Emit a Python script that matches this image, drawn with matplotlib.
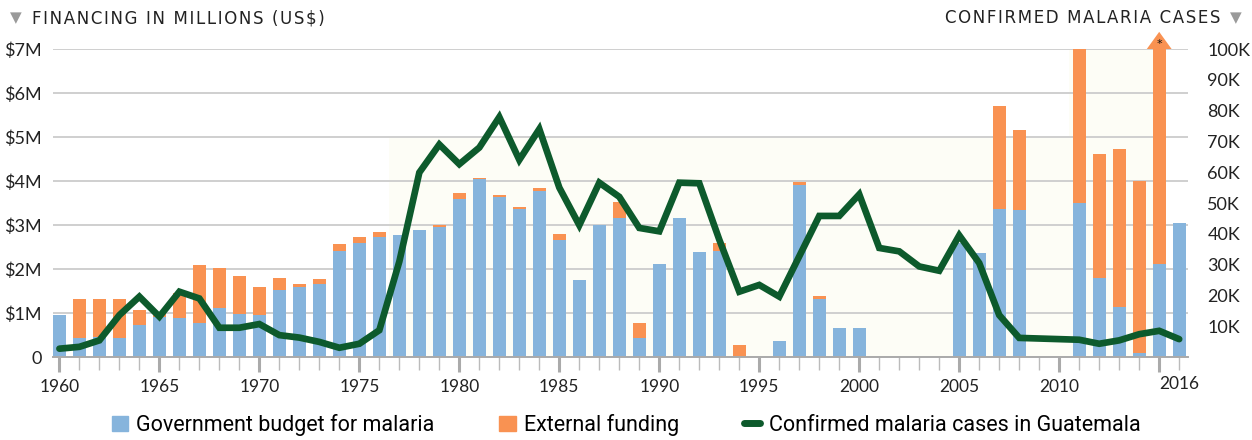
import numpy as np
import matplotlib
matplotlib.use('Agg')
import matplotlib.pyplot as plt
from matplotlib.lines import Line2D
from matplotlib.patches import Patch

# years shown on the x axis
years = list(range(1960, 2017))

# government budget for malaria, millions US$ (0 = no bar)
gov_budget = [0.95, 0.44, 0.45, 0.44, 0.72, 0.91, 0.88, 0.77, 1.12, 0.98,
              0.95, 1.53, 1.58, 1.65, 2.42, 2.60, 2.73, 2.77, 2.89, 2.95,
              3.60, 4.04, 3.64, 3.36, 3.77, 2.67, 1.75, 2.99, 3.17, 0.44,
              2.11, 3.15, 2.39, 2.41, 0.00, 0.00, 0.36, 3.92, 1.32, 0.67,
              0.67, 0.00, 0.00, 0.00, 0.00, 2.60, 2.36, 3.36, 3.34, 0.00,
              0.00, 3.51, 1.79, 1.13, 0.10, 2.11, 3.05]

# external funding, millions US$ (2015 goes off the scale)
ext_funding = [0.00, 0.87, 0.86, 0.87, 0.35, 0.08, 0.57, 1.31, 0.90, 0.85,
               0.63, 0.27, 0.08, 0.12, 0.14, 0.13, 0.10, 0.00, 0.00, 0.04,
               0.12, 0.02, 0.04, 0.04, 0.06, 0.12, 0.00, 0.00, 0.35, 0.33,
               0.00, 0.00, 0.00, 0.17, 0.27, 0.00, 0.00, 0.06, 0.07, 0.00,
               0.00, 0.00, 0.00, 0.00, 0.00, 0.00, 0.00, 2.34, 1.82, 0.00,
               0.00, 3.48, 2.82, 3.60, 3.90, 4.89, 0.00]

# confirmed malaria cases in Guatemala, thousands
cases = [2.7, 3.3, 5.4, 13.6, 19.6, 13.1, 21.2, 19.0, 9.5, 9.5,
         10.7, 7.1, 6.3, 4.9, 3.0, 4.3, 8.7, 31.0, 59.9, 69.0,
         62.6, 68.0, 77.9, 64.0, 74.0, 55.0, 42.8, 56.6, 52.0, 41.9,
         40.8, 56.6, 56.4, 38.1, 21.2, 23.4, 19.6, 32.7, 45.8, 45.8,
         52.8, 35.4, 34.3, 29.4, 28.0, 39.5, 30.5, 13.6, 6.2, 6.0,
         5.8, 5.6, 4.3, 5.4, 7.4, 8.5, 5.8]

left_ticks = [0, 1, 2, 3, 4, 5, 6, 7]
left_labels = ['0', '$1M', '$2M', '$3M', '$4M', '$5M', '$6M', '$7M']
right_ticks = [10, 20, 30, 40, 50, 60, 70, 80, 90, 100]
right_labels = ['%dK' % v for v in right_ticks]
year_labels = [1960, 1965, 1970, 1975, 1980, 1985, 1990, 1995, 2000, 2005, 2010]

blue = '#86b4dc'
orange = '#f99252'
green = '#0d5a2c'
ink = '#222222'
tick_font = 'Lato'
HAIR = '\u200a'


def tracked(s):
    # fake letter spacing with hair spaces
    return HAIR.join(s)


fig = plt.figure(figsize=(12.52, 4.4), dpi=100)
ax = fig.add_axes([53 / 1252, 1 - 357 / 440, (1188 - 53) / 1252, 308 / 440])

x = np.array(years)
gov = np.array(gov_budget)
ext = np.array(ext_funding)

# faint cream background behind the later years
ax.fill_between([1976.5, 2015.3], 0, 5, color='#fdfdf6', zorder=0, linewidth=0)
ax.fill_between([2010.5, 2015.3], 5, 7, color='#fdfdf6', zorder=0, linewidth=0)

ax.bar(x, gov, width=0.65, color=blue, zorder=2)
ax.bar(x, ext, width=0.65, bottom=gov, color=orange, zorder=2)

# arrow head on the off-scale 2015 bar
i15 = years.index(2015)
top15 = gov[i15] + ext[i15]
ax.fill([2015 - 0.62, 2015 + 0.62, 2015], [top15, top15, top15 + 0.39],
        color=orange, clip_on=False, zorder=3, linewidth=0)
ax.text(2015, top15 + 0.12, '*', ha='center', va='center', fontsize=8,
        color='#111111', zorder=4)

ax.set_xlim(1959.68, 2016.44)
ax.set_ylim(0, 7)
ax.set_yticks(left_ticks)
ax.set_yticklabels(left_labels, fontsize=13, color=ink, family=tick_font)
ax.tick_params(axis='y', length=0, pad=8)
ax.yaxis.grid(True, color='#cfcfcf', linewidth=1.4, zorder=1)
ax.set_axisbelow(True)

ax.set_xticks(year_labels + [2015])
ax.set_xticklabels([str(y) for y in year_labels] + [''], fontsize=12.5,
                   color=ink, family=tick_font)
ax.set_xticks(years, minor=True)
ax.tick_params(axis='x', which='major', length=11, width=2.2, color='#aaaaaa', pad=5)
ax.tick_params(axis='x', which='minor', length=9, width=1.0, color='#bbbbbb')
ax.text(2016, -0.44, '2016', transform=ax.transData, ha='center', va='top',
        fontsize=12.5, color=ink, family=tick_font)

for side in ['top', 'right', 'left']:
    ax.spines[side].set_visible(False)
ax.spines['bottom'].set_color('#aaaaaa')
ax.spines['bottom'].set_linewidth(1.4)

ax2 = ax.twinx()
ax2.plot(x, cases, color=green, linewidth=4.8, solid_capstyle='round',
         solid_joinstyle='miter', zorder=5)
ax2.set_ylim(0, 100)
ax2.set_yticks(right_ticks)
ax2.set_yticklabels(right_labels, fontsize=13, color=ink, family=tick_font)
ax2.tick_params(axis='y', length=0, pad=14)
for side in ['top', 'right', 'left', 'bottom']:
    ax2.spines[side].set_visible(False)

# axis titles
fig.text(10 / 1252, 1 - 18 / 440, '\u25bc', fontsize=11, color='#9a9a9a',
         va='center', ha='left', family='DejaVu Sans')
fig.text(32 / 1252, 1 - 18 / 440, tracked('FINANCING IN MILLIONS (US$)'),
         fontsize=12, color=ink, va='center', ha='left', family='DejaVu Sans')
fig.text(1242 / 1252, 1 - 18 / 440, '\u25bc', fontsize=11, color='#9a9a9a',
         va='center', ha='right', family='DejaVu Sans')
fig.text(1220 / 1252, 1 - 18 / 440, tracked('CONFIRMED MALARIA CASES'),
         fontsize=12, color=ink, va='center', ha='right', family='DejaVu Sans')

handles = [Patch(color=blue), Patch(color=orange),
           Line2D([0], [0], color=green, linewidth=5, solid_capstyle='round')]
labels = ['Government budget for malaria', 'External funding',
          'Confirmed malaria cases in Guatemala']
fig.legend(handles, labels, loc='center', bbox_to_anchor=(0.5, 1 - 425 / 440),
           ncol=3, frameon=False, handlelength=0.75, handleheight=0.75,
           handletextpad=0.4, columnspacing=3.0,
           prop={'family': 'Roboto', 'size': 15.5})

fig.savefig('out.png', dpi=100)
